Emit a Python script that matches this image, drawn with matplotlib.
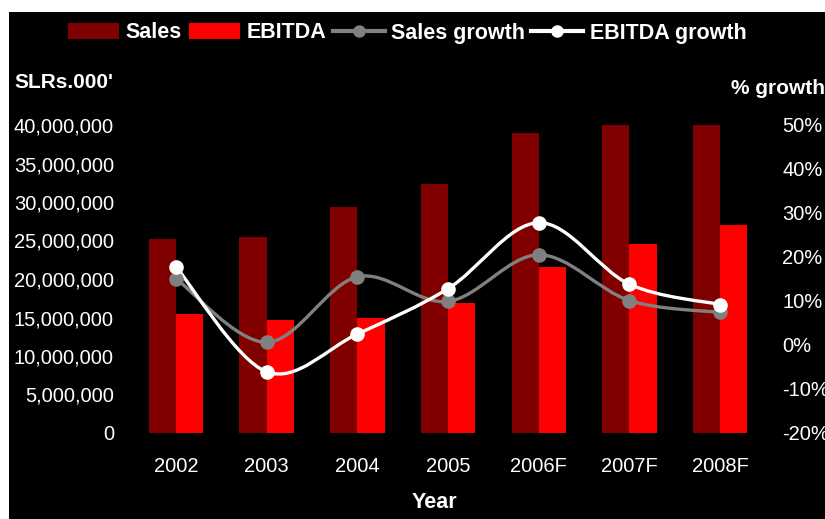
import matplotlib
matplotlib.use("Agg")
import matplotlib.pyplot as plt
from matplotlib.path import Path
from matplotlib.patches import PathPatch, Rectangle, Patch
from matplotlib.lines import Line2D
from matplotlib.ticker import FuncFormatter, MultipleLocator
import numpy as np

plt.rcParams['font.family'] = ['Liberation Sans', 'DejaVu Sans']

years = ["2002", "2003", "2004", "2005", "2006F", "2007F", "2008F"]
sales = [25200000, 25400000, 29300000, 32300000, 39000000, 40300000, 40300000]
ebitda = [15400000, 14700000, 14900000, 16900000, 21600000, 24600000, 27000000]
sales_growth = [15.1, 0.6, 15.5, 9.9, 20.5, 10.1, 7.4]
ebitda_growth = [17.8, -6.1, 2.5, 12.8, 27.8, 13.8, 9.2]

SALES_C = "#800000"
EBITDA_C = "#ff0000"
SG_C = "#808080"
EG_C = "#ffffff"


def smooth_path(xs, ys):
    # bezier curve through the points, like a spreadsheet "smoothed line"
    pts = np.column_stack([xs, ys]).astype(float)
    n = len(pts)
    verts = [pts[0]]
    codes = [Path.MOVETO]
    for i in range(n - 1):
        p0 = pts[i - 1] if i > 0 else pts[i]
        p1 = pts[i]
        p2 = pts[i + 1]
        p3 = pts[i + 2] if i + 2 < n else pts[i + 1]
        verts += [p1 + (p2 - p0) / 6, p2 - (p3 - p1) / 6, p2]
        codes += [Path.CURVE4] * 3
    return Path(verts, codes)


fig = plt.figure(figsize=(8.25, 5.19), dpi=100)
fig.patch.set_facecolor("white")
fig.patches.append(Rectangle((9 / 825, 0), 1, (519 - 12) / 519, transform=fig.transFigure,
                             facecolor="black", edgecolor="none", zorder=-10))

L, R, B, T = 130.6 / 825, 765.5 / 825, (519 - 433) / 519, (519 - 125) / 519
ax = fig.add_axes([L, B, R - L, T - B])
ax.set_facecolor("none")

x = np.arange(len(years))
w = 0.3
ax.bar(x - w / 2, sales, w, color=SALES_C, zorder=2)
ax.bar(x + w / 2, ebitda, w, color=EBITDA_C, zorder=2)

ax.set_xlim(-0.5, len(years) - 0.5)
ax.set_ylim(0, 40000000)
ax.yaxis.set_major_locator(MultipleLocator(5000000))
ax.yaxis.set_major_formatter(FuncFormatter(lambda v, p: f"{int(v):,}"))
ax.set_xticks(x)
ax.set_xticklabels(years)
ax.tick_params(axis="y", length=0, pad=12, labelsize=14.5, labelcolor="white")
ax.tick_params(axis="x", length=0, pad=17, labelsize=14.5, labelcolor="white")
for s in ax.spines.values():
    s.set_visible(False)

ax2 = ax.twinx()
ax2.set_ylim(-20, 50)
ax2.yaxis.set_major_locator(MultipleLocator(10))
ax2.yaxis.set_major_formatter(FuncFormatter(lambda v, p: f"{int(round(v))}%"))
ax2.tick_params(axis="y", length=0, pad=12, labelsize=14.5, labelcolor="white")
for s in ax2.spines.values():
    s.set_visible(False)

for vals, col in [(sales_growth, SG_C), (ebitda_growth, EG_C)]:
    ax2.add_patch(PathPatch(smooth_path(x, vals), fill=False, edgecolor=col, lw=2.4, zorder=3))
    ax2.plot(x, vals, ls="none", marker="o", ms=9.5, color=col, zorder=4)

fig.text(14 / 825, 1 - 83 / 519, "SLRs.000'", color="white", fontsize=15, fontweight="bold",
         ha="left", va="center")
fig.text(731 / 825, 1 - 88 / 519, "% growth", color="white", fontsize=15, fontweight="bold",
         ha="left", va="center")
fig.text(434 / 825, 1 - 502 / 519, "Year", color="white", fontsize=15.5, fontweight="bold",
         ha="center", va="center")

handles = [
    Patch(facecolor=SALES_C, edgecolor="none"),
    Patch(facecolor=EBITDA_C, edgecolor="none"),
    Line2D([], [], color=SG_C, lw=3, marker="o", ms=8),
    Line2D([], [], color=EG_C, lw=3, marker="o", ms=8),
]
leg = fig.legend(handles, ["Sales", "EBITDA", "Sales growth", "EBITDA growth"],
                 loc="center", bbox_to_anchor=(407 / 825, 1 - 33 / 519), ncol=4,
                 frameon=False, handlelength=2.4, handleheight=0.7, handletextpad=0.3,
                 columnspacing=0.3, prop={"size": 15.5, "weight": "bold"})
for t in leg.get_texts():
    t.set_color("white")

fig.savefig("out.png", dpi=100, facecolor="white")
